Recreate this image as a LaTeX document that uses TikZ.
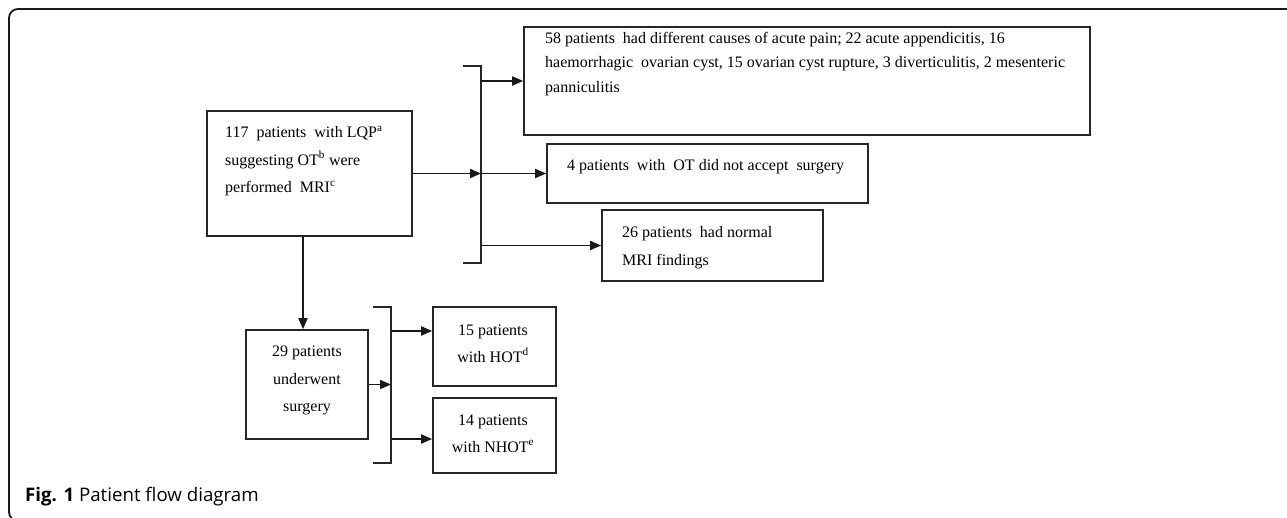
\documentclass[tikz,border=0pt]{standalone}
\usepackage{fontspec}
\setmainfont{Liberation Serif}
\newfontfamily\capfont{Open Sans}
\usetikzlibrary{arrows.meta}
\begin{document}
\begin{tikzpicture}[x=1pt,y=-1pt,
  box/.style={draw=black!85,line width=1.6pt,inner sep=0pt,anchor=center},
  txt/.style={inner sep=0pt,anchor=west,align=left,font=\fontsize{16}{27.5}\selectfont},
  ctxt/.style={inner sep=0pt,anchor=center,align=center,font=\fontsize{16}{27.5}\selectfont},
  arr/.style={line width=1.8pt,draw=black!90,-{Triangle[length=11pt,width=9pt]}},
  brk/.style={line width=1.6pt,draw=black!85},
  frame/.style={line width=1.8pt,draw=black!90,rounded corners=9pt}]
\useasboundingbox (0,0) rectangle (1287,518);
\clip (0,0) rectangle (1287,518);
\draw[frame] (1300,9) -- (9,9) -- (9,521) -- (60,521);
% boxes
\node[box,minimum width=205pt,minimum height=125pt] (main) at (309.5,173.5) {};
\node[box,minimum width=566pt,minimum height=108pt] (b1) at (807,81) {};
\node[box,minimum width=321pt,minimum height=59pt] (b2) at (707.5,173.5) {};
\node[box,minimum width=221pt,minimum height=71pt] (b3) at (712.5,245.5) {};
\node[box,minimum width=122pt,minimum height=109pt] (surg) at (307,384.5) {};
\node[box,minimum width=123pt,minimum height=79pt] (hot) at (494.5,346.5) {};
\node[box,minimum width=123pt,minimum height=75pt] (nhot) at (494.5,435.5) {};
% texts
\node[txt] (tmain) at (225,161) {117\ \ patients\ \ with LQP\textsuperscript{a}\\suggesting OT\textsuperscript{b} were\\performed\ \ MRI\textsuperscript{c}};
\node[txt,font=\fontsize{16}{24.5}\selectfont] (tb1) at (545,64) {58 patients\ \ had different causes of acute pain; 22 acute appendicitis, 16\\haemorrhagic\ \ ovarian cyst, 15 ovarian cyst rupture, 3 diverticulitis, 2 mesenteric\\panniculitis};
\node[txt] (tb2) at (567,167) {4 patients\ \ with\ \ OT did not accept\ \ surgery};
\node[txt,font=\fontsize{16}{28}\selectfont] (tb3) at (622,248) {26 patients\ \ had normal\\MRI findings};
\node[ctxt] (tsurg) at (307,380.5) {29 patients\\underwent\\surgery};
\node[ctxt,font=\fontsize{16}{27}\selectfont] (thot) at (493,343.5) {15 patients\\with HOT\textsuperscript{d}};
\node[ctxt,font=\fontsize{16}{27}\selectfont] (tnhot) at (493,433.5) {14 patients\\with NHOT\textsuperscript{e}};
% bracket 1
\coordinate (k1a) at (463,66);
\coordinate (k1b) at (481,66);
\coordinate (k1c) at (481,263);
\coordinate (k1d) at (463,263);
\draw[brk] (k1a) -- (k1b) -- (k1c) -- (k1d);
% bracket 2
\coordinate (k2a) at (373,307);
\coordinate (k2b) at (391,307);
\coordinate (k2c) at (391,463);
\coordinate (k2d) at (373,463);
\draw[brk] (k2a) -- (k2b) -- (k2c) -- (k2d);
% connectors
\draw[arr] (main.east) -- (main.east -| k1b);
\draw[arr] (b1.west -| k1b) -- (b1.west);
\draw[arr] (b2.west -| k1b) -- (b2.west);
\draw[arr] (b3.west -| k1b) -- (b3.west);
\draw[arr] (main.south -| 303,0) -- (surg.north -| 303,0);
\draw[arr] (surg.east) -- (surg.east -| k2b);
\coordinate (h1) at (391,331);
\coordinate (h2) at (391,439);
\draw[arr] (h1) -- (h1 -| hot.west);
\draw[arr] (h2) -- (h2 -| nhot.west);
% caption
\node[inner sep=0pt,anchor=west,font=\capfont\fontsize{18.7}{22}\selectfont] (cap) at (25,497) {\textbf{Fig. 1} Patient flow diagram};
\end{tikzpicture}
\end{document}
